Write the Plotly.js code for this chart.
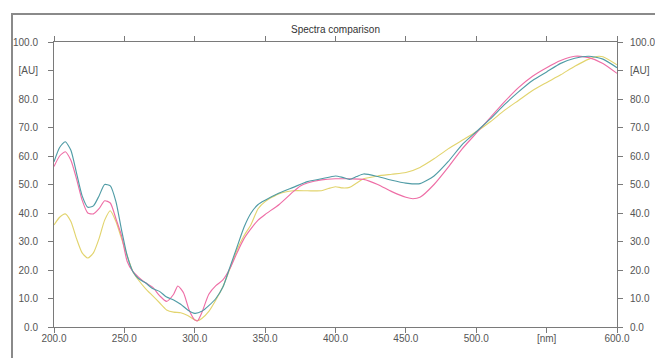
<!DOCTYPE html>
<html>
<head>
<meta charset="utf-8">
<script src="https://cdn.plot.ly/plotly-3.0.1.min.js"></script>
<style>
html,body{margin:0;padding:0;background:#fff;}
#wrap{position:relative;width:655px;height:358px;overflow:hidden;}
#chart{position:absolute;left:0;top:0;width:655px;height:358px;}
#frame{position:absolute;left:11px;top:13px;width:700px;height:400px;border-left:2px solid #8a8a8a;border-top:2px solid #8a8a8a;pointer-events:none;}
</style>
</head>
<body>
<div id="wrap"><div id="chart"></div><div id="frame"></div></div>
<script>
// ---- data ----
const wlTeal = [200,204,208,212,216,220,224,228,232,236,240,244,248,252,256,260,265,270,275,280,285,290,295,300,305,310,315,320,325,330,335,340,345,350,360,370,380,390,400,405,410,415,420,430,440,450,460,470,480,490,500,510,520,530,540,550,560,570,580,590,600];
const teal   = [58,63,65,62,54,46,42,42.5,46,50,49.5,44,34,25,19.5,17,15.5,13.5,12.5,10.5,9.5,8,6,4.8,5.5,7.5,10,14,21,28,35,40,43,44.5,47,49,51,52,53,52.5,51.8,52.8,53.7,52.8,51.5,50.5,50.3,53,58,64,68.5,73,78,82.5,86.5,89.5,92.5,94.3,95,94,91];

const wlPink = [200,204,208,212,216,220,224,228,232,236,240,244,248,252,256,260,265,270,275,280,285,288,292,296,300,302,305,310,315,320,325,330,335,340,345,350,360,370,375,380,390,400,410,420,430,440,450,455,460,470,480,490,500,510,520,530,540,550,560,570,580,590,600];
const pink   = [56.3,60,61.5,58.5,52,44.5,40,39.7,41.5,44.3,43.5,38,32,23,19.5,17.5,15.5,14,11,9,11.5,14.4,12,6,2.5,2.2,5,11.5,14.5,16.5,20.5,26,31,34.5,37.5,39.5,43,47.5,49.5,50.5,51.6,52,52,51.8,50,47.5,45.5,45,45.5,50,56,62.5,68,73.5,79,84,88,91,93.5,95,94.5,92.5,89];

const wlYellow = [200,204,208,212,216,220,224,228,232,236,240,244,248,252,256,260,265,270,275,280,285,290,295,300,302,305,310,315,320,325,330,335,340,345,350,360,370,380,390,395,400,405,410,415,420,430,440,450,460,470,480,490,500,510,520,530,540,550,560,570,580,587,590,600];
const yellow   = [35.8,38.5,39.7,37,31,26,24.2,26,31,37.5,40.8,37,31,25,19.5,16.5,13.5,11,8.5,6,5.2,5,4,2.5,2.2,3,5.5,9.5,14.1,20.5,27,32,36,41.5,44,46.8,47.8,47.8,47.8,48.6,49.2,48.8,49,50.5,52,53,53.6,54.2,56,59,62.5,65.5,68.5,72,76,79.5,83,85.8,88.5,91.5,94,95,94.8,92];

const xTickVals = [200,250,300,350,400,450,500,550,600];
const xTickText = ['200.0','250.0','300.0','350.0','400.0','450.0','500.0','[nm]','600.0'];
const yTickVals = [0,10,20,30,40,50,60,70,80,90,100];
const yTickText = ['0.0','10.0','20.0','30.0','40.0','50.0','60.0','70.0','80.0','[AU]','100.0'];

// ---- chart ----
const lineCommon = {mode:'lines', hoverinfo:'skip', showlegend:false};
const traces = [
  Object.assign({x:wlYellow, y:yellow, line:{color:'rgb(226,212,110)', width:1.15, shape:'spline', smoothing:0.6}}, lineCommon),
  Object.assign({x:wlPink, y:pink, line:{color:'rgb(238,110,166)', width:1.15, shape:'spline', smoothing:0.6}}, lineCommon),
  Object.assign({x:wlTeal, y:teal, line:{color:'rgb(80,156,166)', width:1.15, shape:'spline', smoothing:0.6}}, lineCommon),
  // empty trace so the right-hand label axis is registered
  Object.assign({x:[], y:[], yaxis:'y2'}, lineCommon)
];

const axisFont = {family:'Liberation Sans, Arial, sans-serif', size:10, color:'#555'};
const layout = {
  width:655, height:358,
  margin:{l:54, r:38, t:42, b:31, pad:0},
  paper_bgcolor:'rgba(0,0,0,0)', plot_bgcolor:'rgba(0,0,0,0)',
  title:{text:'Spectra comparison', font:{family:'Liberation Sans, Arial, sans-serif', size:10, color:'#333'},
         x:0.5, xref:'paper', y:1-29/358, yref:'container', yanchor:'middle'},
  xaxis:{range:[200,600], tickmode:'array', tickvals:xTickVals, ticktext:xTickText,
         showgrid:false, zeroline:false, showline:true, linecolor:'#7a7a7a', linewidth:1,
         mirror:'ticks', ticks:'outside', ticklen:5, tickcolor:'#7a7a7a', tickwidth:1,
         tickfont:axisFont, ticklabelstandoff:-3},
  yaxis:{range:[0,100], tickmode:'array', tickvals:yTickVals, ticktext:yTickText,
         showgrid:false, zeroline:false, showline:true, linecolor:'#7a7a7a', linewidth:1,
         mirror:'ticks', ticks:'outside', ticklen:5, tickcolor:'#7a7a7a', tickwidth:1,
         tickfont:axisFont, ticklabelstandoff:8},
  yaxis2:{range:[0,100], overlaying:'y', side:'right', anchor:'x', tickmode:'array', tickvals:yTickVals, ticktext:yTickText,
          showgrid:false, zeroline:false, showline:false, ticks:'', tickfont:axisFont, ticklabelstandoff:12}
};

Plotly.newPlot('chart', traces, layout, {staticPlot:true, displayModeBar:false});
</script>
</body>
</html>
